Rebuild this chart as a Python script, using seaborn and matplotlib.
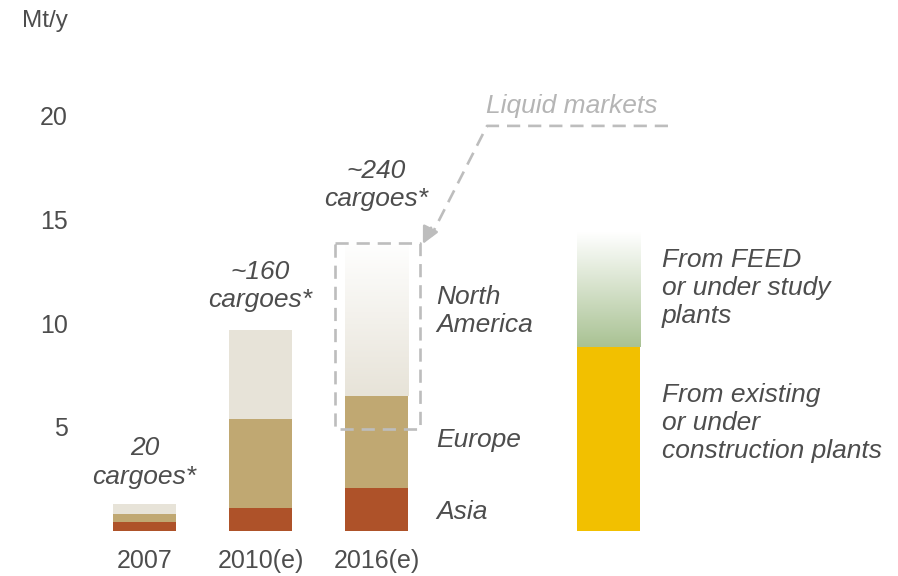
import numpy as np
import pandas as pd
import matplotlib.pyplot as plt
import seaborn as sns
from matplotlib.colors import LinearSegmentedColormap

sns.set_style("white")
plt.rcParams["font.family"] = ["Liberation Sans", "DejaVu Sans"]

TXT = "#4D4D4D"; GREY = "#BDBDBD"
ASIA_C = "#AE5229"; EUR_C = "#C0A872"; NAM_C = "#E7E3D8"
YELLOW = "#F2C000"; GREEN = "#A9C293"

# ---- data (Mt/y) ----
years = ["2007", "2010(e)", "2016(e)"]
year_pos = [0, 1, 2]
asia = [0.43, 1.09, 2.05]
europe = [0.37, 4.29, 4.44]
north_america = [0.48, 4.29, 7.50]
cargo_labels = ["20\ncargoes*", "~160\ncargoes*", "~240\ncargoes*"]
supply_pos = 4
supply_existing = 8.87
supply_feed = 5.50
BAR_W = 0.545

df = pd.DataFrame({"pos": year_pos, "year": years, "asia": asia,
                   "europe": europe, "nam": north_america})
df["cum_eur"] = df["asia"] + df["europe"]
df["cum_nam"] = df["cum_eur"] + df["nam"]
# the 2016 North America block is drawn as a fade, not as a flat bar
df["flat_nam"] = df["cum_nam"].where(df["pos"] != 2)

fig = plt.figure(figsize=(8.98, 5.76), dpi=100)
ax = fig.add_axes([80 / 898, 45.4 / 576, 818 / 898, 530.6 / 576])

for col, c in [("flat_nam", NAM_C), ("cum_eur", EUR_C), ("asia", ASIA_C)]:
    sns.barplot(data=df, x="pos", y=col, native_scale=True, color=c,
                saturation=1, width=BAR_W, errorbar=None, linewidth=0, ax=ax)

sup = pd.DataFrame({"pos": [supply_pos], "v": [supply_existing]})
sns.barplot(data=sup, x="pos", y="v", native_scale=True, color=YELLOW,
            saturation=1, width=BAR_W, errorbar=None, linewidth=0, ax=ax)


def fade(x, bottom, top, color):
    cmap = LinearSegmentedColormap.from_list("f", [color, "white"])
    grad = np.linspace(0, 1, 256).reshape(-1, 1)
    ax.imshow(grad, cmap=cmap, origin="lower", aspect="auto", zorder=2,
              extent=[x - BAR_W / 2, x + BAR_W / 2, bottom, top])


row = df[df["pos"] == 2].iloc[0]
fade(2, row["cum_eur"], row["cum_nam"], NAM_C)
fade(supply_pos, supply_existing, supply_existing + supply_feed, GREEN)

# dashed "liquid markets" box and pointer
dash = dict(color=GREY, lw=1.9, ls=(0, (5, 3)), zorder=4)
ax.plot([1.642, 2.375, 2.375, 1.642, 1.642],
        [13.85, 13.85, 4.92, 4.92, 13.85], **dash)
ax.plot([4.513, 2.953, 2.47], [19.51, 19.51, 14.2], **dash)
ax.annotate("", xy=(2.40, 13.82), xytext=(2.47, 14.6),
            arrowprops=dict(arrowstyle="-|>,head_length=1.0,head_width=0.5",
                            color=GREY, lw=1.9, shrinkA=0, shrinkB=0))
ax.text(3.685, 20.47, "Liquid markets", color="#B5B5B5", style="italic",
        fontsize=19, ha="center", va="center")

# annotations
lab = dict(color=TXT, style="italic", fontsize=19, va="center", linespacing=1.22)
for x, y, t in zip(year_pos, [3.28, 11.79, 16.66], cargo_labels):
    ax.text(x, y, t, ha="center", **lab)
ax.text(2.513, 10.59, "North\nAmerica", ha="left", **lab)
ax.text(2.513, 4.37, "Europe", ha="left", **lab)
ax.text(2.513, 0.90, "Asia", ha="left", **lab)
ax.text(4.461, 11.70, "From FEED\nor under study\nplants", ha="left", **lab)
ax.text(4.461, 5.19, "From existing\nor under\nconstruction plants", ha="left", **lab)

ax.set_xlim(-0.556, 6.496)
ax.set_ylim(0, 25.58)
ax.set_xticks(year_pos, years)
ax.set_yticks([5, 10, 15, 20])
ax.tick_params(length=0, labelsize=18, labelcolor=TXT)
ax.tick_params(axis="y", pad=9)
ax.tick_params(axis="x", pad=13)
ax.set_xlabel(""); ax.set_ylabel("")
sns.despine(ax=ax, left=True, bottom=True)
fig.text(45 / 898, 1 - 21 / 576, "Mt/y", color=TXT, fontsize=17.5,
         ha="center", va="center")

fig.savefig("out.png", dpi=100)
